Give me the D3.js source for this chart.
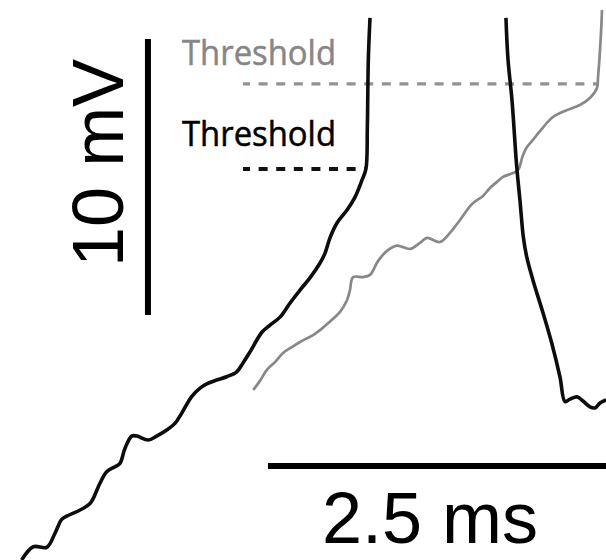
<!DOCTYPE html>
<html>
<head>
<meta charset="utf-8">
<script src="https://cdn.jsdelivr.net/npm/d3@7"></script>
<style>
  html, body { margin: 0; padding: 0; background: #fff; }
  svg { display: block; }
</style>
</head>
<body>
<div id="chart"></div>
<script>
// ---- Data (time in ms, membrane potential in mV) ----
// Black trace: rising phase to first spike
const blackRiseT = [0.012,0.095,0.191,0.25,0.298,0.334,0.429,0.5,0.524,0.571,0.619,0.679,0.714,0.75,0.798,0.834,0.916,0.976,1.048,1.107,1.155,1.226,1.286,1.334,1.405,1.476,1.548,1.593,1.643,1.729,1.786,1.857,1.929,2.0,2.071,2.143,2.179,2.214,2.264,2.336,2.393,2.443,2.471,2.481,2.488,2.5];
const blackRiseV = [-70.00,-69.52,-69.54,-69.03,-68.53,-68.41,-68.19,-67.95,-67.76,-67.22,-66.80,-66.62,-66.50,-65.95,-65.51,-65.51,-65.65,-65.51,-65.29,-65.05,-64.68,-64.08,-63.77,-63.62,-63.48,-63.36,-63.18,-62.86,-62.46,-61.74,-61.49,-61.20,-60.69,-60.22,-59.78,-59.24,-58.88,-58.33,-57.79,-57.32,-56.85,-56.23,-55.83,-54.31,-51.88,-50.36];
// Black trace: repolarization after spike
const blackFallT = [3.471,3.486,3.514,3.548,3.571,3.595,3.619,3.664,3.736,3.798,3.857,3.893,3.929,3.979,4.021,4.071,4.107,4.143,4.186];
const blackFallV = [-50.36,-51.88,-53.33,-55.75,-56.96,-58.29,-59.01,-59.86,-61.05,-62.14,-63.37,-64.26,-64.17,-64.09,-64.24,-64.45,-64.49,-64.31,-64.20];
// Gray trace
const grayT = [1.666,1.714,1.762,1.821,1.879,1.943,2.0,2.093,2.143,2.193,2.286,2.336,2.357,2.379,2.45,2.5,2.557,2.621,2.693,2.786,2.857,2.907,3.0,3.071,3.143,3.229,3.307,3.357,3.407,3.45,3.521,3.557,3.593,3.621,3.664,3.714,3.807,3.907,4.0,4.071,4.121,4.129,4.15,4.157];
const grayV = [-63.84,-63.51,-63.12,-62.83,-62.50,-62.28,-62.10,-61.85,-61.67,-61.45,-61.01,-60.58,-60.22,-59.75,-59.75,-59.67,-59.17,-58.80,-58.61,-58.73,-58.51,-58.33,-58.48,-58.15,-57.68,-57.10,-56.81,-56.52,-56.30,-56.12,-55.98,-55.87,-55.33,-55.04,-54.78,-54.46,-53.95,-53.70,-53.51,-53.26,-52.90,-52.50,-50.91,-50.07];

// Thresholds: [label, voltage, start time, end time]
const thresholdLabels = ["Threshold", "Threshold"];
const thresholdV = [-52.75, -55.83];
const thresholdT0 = [1.593, 1.593];
const thresholdT1 = [4.121, 2.471];

// Scale bars
const vBarLabel = "10 mV";
const vBarT = 0.914, vBarV0 = -61.12, vBarLen = 10;
const hBarLabel = "2.5 ms";
const hBarT0 = 1.771, hBarV = -66.59, hBarLen = 2.5;

// ---- Drawing ----
const W = 606, H = 560;
const x = d3.scaleLinear().domain([0, 1]).range([20, 160]);          // 140 px per ms
const y = d3.scaleLinear().domain([-70, -60]).range([560, 284]);     // 27.6 px per mV

const svg = d3.select("#chart").append("svg")
  .attr("width", W).attr("height", H)
  .style("background", "#fff");

const line = d3.line()
  .x(d => x(d[0])).y(d => y(d[1]))
  .curve(d3.curveCatmullRom.alpha(0.5));

const zip = (a, b) => a.map((v, i) => [v, b[i]]);

// threshold dashed lines
const thrColors = ["#929292", "#111"];
const thrWidths = [3.4, 4];
thresholdV.forEach((v, i) => {
  svg.append("line")
    .attr("x1", x(thresholdT0[i])).attr("x2", x(thresholdT1[i]))
    .attr("y1", y(v)).attr("y2", y(v))
    .attr("stroke", thrColors[i])
    .attr("stroke-width", thrWidths[i])
    .attr("stroke-dasharray", "9,8.6")
    .attr("stroke-dashoffset", 2);
});

// gray trace
svg.append("path")
  .datum(zip(grayT, grayV))
  .attr("d", line)
  .attr("fill", "none")
  .attr("stroke", "#888")
  .attr("stroke-width", 2.7)
  .attr("stroke-linejoin", "round");

// black traces
[zip(blackRiseT, blackRiseV), zip(blackFallT, blackFallV)].forEach(d => {
  svg.append("path")
    .datum(d)
    .attr("d", line)
    .attr("fill", "none")
    .attr("stroke", "#0d0d0d")
    .attr("stroke-width", 3.6)
    .attr("stroke-linejoin", "round");
});

// threshold labels
const lblColors = ["#878787", "#000"];
const lblBase = [65, 146];
thresholdLabels.forEach((t, i) => {
  svg.append("text")
    .attr("x", 182).attr("y", lblBase[i])
    .attr("fill", lblColors[i])
    .attr("stroke", lblColors[i])
    .attr("stroke-width", 0.5)
    .attr("font-family", "'Open Sans', 'Noto Sans', sans-serif")
    .attr("font-size", 34)
    .attr("textLength", 154)
    .attr("lengthAdjust", "spacingAndGlyphs")
    .text(t);
});

// vertical scale bar
svg.append("line")
  .attr("x1", x(vBarT)).attr("x2", x(vBarT))
  .attr("y1", y(vBarV0)).attr("y2", y(vBarV0 + vBarLen))
  .attr("stroke", "#000").attr("stroke-width", 6);
svg.append("text")
  .attr("transform", `translate(${x(vBarT) - 25},${(y(vBarV0) + y(vBarV0 + vBarLen)) / 2 - 14}) rotate(-90)`)
  .attr("text-anchor", "middle")
  .attr("font-family", "'Liberation Sans', Arial, sans-serif")
  .attr("font-size", 72)
  .attr("fill", "#000")
  .text(vBarLabel);

// horizontal scale bar
svg.append("line")
  .attr("x1", x(hBarT0)).attr("x2", x(hBarT0 + hBarLen))
  .attr("y1", y(hBarV)).attr("y2", y(hBarV))
  .attr("stroke", "#000").attr("stroke-width", 6);
svg.append("text")
  .attr("x", 430).attr("y", y(hBarV) + 77)
  .attr("text-anchor", "middle")
  .attr("font-family", "'Liberation Sans', Arial, sans-serif")
  .attr("font-size", 72)
  .attr("fill", "#000")
  .text(hBarLabel);
</script>
</body>
</html>
